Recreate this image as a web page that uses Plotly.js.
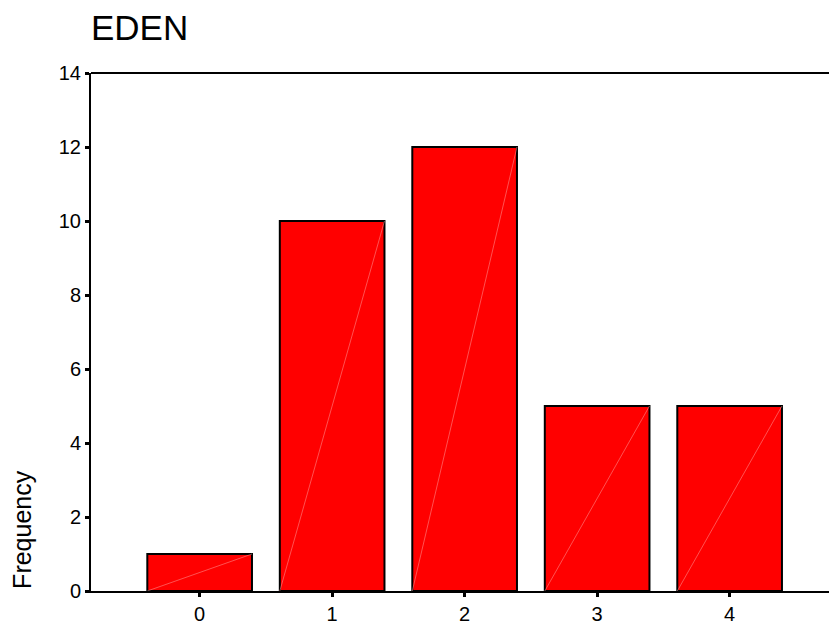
<!DOCTYPE html>
<html>
<head>
<meta charset="utf-8">
<script src="https://cdn.plot.ly/plotly-3.0.1.min.js"></script>
<style>html,body{margin:0;padding:0;background:#fff;}#chart{width:829px;height:625px;}</style>
</head>
<body>
<div id="chart"></div>
<script>
const categories = [0, 1, 2, 3, 4];
const frequencies = [1, 10, 12, 5, 5];
const yTicks = [0, 2, 4, 6, 8, 10, 12, 14];
const chartTitle = "EDEN";
const yLabel = "Frequency";

const barWidth = 0.79;
const diagX = [], diagY = [];
categories.forEach((c, i) => {
  diagX.push(c - barWidth / 2, c + barWidth / 2, null);
  diagY.push(0, frequencies[i], null);
});

const traces = [
  {
    type: 'bar', x: categories, y: frequencies, width: barWidth,
    marker: {color: '#ff0000', line: {color: '#000000', width: 2}},
    hoverinfo: 'x+y'
  },
  {
    type: 'scatter', mode: 'lines', x: diagX, y: diagY,
    line: {color: 'rgba(255,170,170,0.8)', width: 0.6},
    hoverinfo: 'skip'
  }
];

const font = "'Liberation Sans', Arial, sans-serif";
const layout = {
  width: 829, height: 625,
  margin: {l: 91, r: 0, t: 73, b: 34},
  paper_bgcolor: '#fff', plot_bgcolor: '#fff',
  showlegend: false,
  font: {family: font, color: '#000'},
  title: {text: chartTitle, font: {family: font, size: 35, color: '#000'},
          xref: 'paper', x: 0, xanchor: 'left', yref: 'container', y: 0.955, yanchor: 'middle'},
  xaxis: {
    range: [-0.82, 4.75], tickvals: categories, ticktext: categories.map(String),
    showline: true, linecolor: '#000', linewidth: 2,
    ticks: 'outside', ticklen: 4, tickwidth: 3, tickcolor: '#000',
    showgrid: false, zeroline: false,
    tickfont: {family: font, size: 20, color: '#000'}
  },
  yaxis: {
    range: [0, 14], tickvals: yTicks,
    showline: true, linecolor: '#000', linewidth: 2,
    ticks: 'outside', ticklen: 4, tickwidth: 3, tickcolor: '#000',
    showgrid: false, zeroline: false,
    tickfont: {family: font, size: 20, color: '#000'}
  },
  shapes: [
    {type: 'line', xref: 'paper', yref: 'paper', x0: 0, x1: 1, y0: 1, y1: 1,
     line: {color: '#000', width: 2}}
  ],
  annotations: [
    {text: yLabel, textangle: -90, xref: 'paper', yref: 'paper', x: 0, y: 0.118,
     xanchor: 'center', yanchor: 'middle', xshift: -69, showarrow: false,
     font: {family: font, size: 25, color: '#000'}}
  ]
};

Plotly.newPlot('chart', traces, layout, {displayModeBar: false, staticPlot: true});
</script>
</body>
</html>
